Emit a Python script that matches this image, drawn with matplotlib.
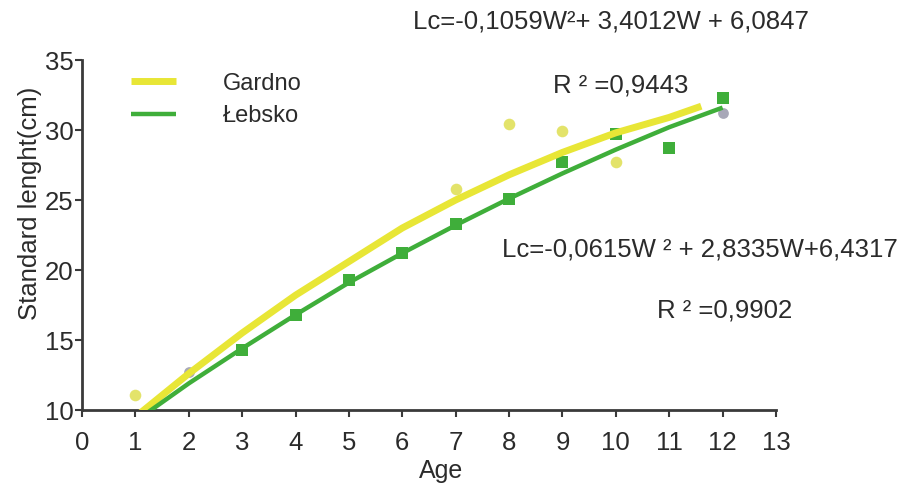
import matplotlib.pyplot as plt
import numpy as np

# values
gardno_age = [1, 7, 8, 9, 10]
gardno_len = [11.1, 25.8, 30.4, 29.9, 27.7]
grey_age = [2, 12]
grey_len = [12.7, 31.2]

lebsko_age = [3, 4, 5, 6, 7, 8, 9, 10, 11, 12]
lebsko_len = [14.3, 16.8, 19.3, 21.2, 23.3, 25.1, 27.7, 29.7, 28.7, 32.3]

# trend lines as they appear in the picture
gardno_trend_age = [1, 2, 3, 4, 5, 6, 7, 8, 9, 10, 11, 11.6]
gardno_trend_len = [9.5, 12.6, 15.5, 18.2, 20.6, 23.0, 25.0, 26.8, 28.4, 29.8, 30.9, 31.7]
lebsko_trend_age = [1, 2, 3, 4, 5, 6, 7, 8, 9, 10, 11, 12]
lebsko_trend_len = [9.2, 11.9, 14.4, 16.8, 19.1, 21.2, 23.2, 25.1, 26.9, 28.6, 30.2, 31.6]

x_ticks = list(range(0, 14))
y_ticks = [10, 15, 20, 25, 30, 35]

plt.rcParams['font.family'] = ['Liberation Sans', 'DejaVu Sans']

YELLOW = '#e8e636'
GREEN = '#3fae3a'
TEXT = '#2b2b2b'
FS = 18.5

fig = plt.figure(figsize=(9.08, 4.9), dpi=100)
ax = fig.add_axes([82 / 908, 80 / 490, 694 / 908, 350 / 490])

ax.scatter(gardno_age, gardno_len, s=70, color='#e3e36a', zorder=2, linewidths=0)
ax.scatter(grey_age, grey_len, s=60, color='#a8a8b8', zorder=2, linewidths=0)
ax.scatter(lebsko_age, lebsko_len, s=75, marker='s', color=GREEN, zorder=2, linewidths=0)

ax.plot(gardno_trend_age, gardno_trend_len, color=YELLOW, lw=5, zorder=3,
        solid_capstyle='butt', label='Gardno')
ax.plot(lebsko_trend_age, lebsko_trend_len, color=GREEN, lw=3.2, zorder=3,
        solid_capstyle='butt', label='Łebsko')

ax.set_xlim(0, 13)
ax.set_ylim(10, 35)
ax.set_xticks(x_ticks)
ax.set_yticks(y_ticks)

for s in ['top', 'right']:
    ax.spines[s].set_visible(False)
for s in ['left', 'bottom']:
    ax.spines[s].set_color('#3a3a3a')
    ax.spines[s].set_linewidth(2)
ax.tick_params(colors='#3a3a3a', labelcolor=TEXT, labelsize=FS, width=1.5,
               length=5, direction='out')
ax.tick_params(axis='x', pad=10)
ax.tick_params(axis='y', pad=1)

ax.set_xlabel('Age', fontsize=18, color=TEXT)
ax.set_ylabel('Standard lenght(cm)', fontsize=18.5, color=TEXT)
ax.xaxis.set_label_coords(0.517, -0.14)
ax.yaxis.set_label_coords(-0.058, 0.59)

leg = ax.legend(loc='upper left', bbox_to_anchor=(0.04, 1.025), frameon=False,
                fontsize=17, handlelength=1.9, handletextpad=2.0, labelspacing=0.45)
for t in leg.get_texts():
    t.set_color(TEXT)

fig.text(413 / 908, 1 - 22 / 490, 'Lc=-0,1059W²+ 3,4012W + 6,0847',
         fontsize=FS, color=TEXT, va='center', ha='left')
fig.text(553 / 908, 1 - 85 / 490, 'R ² =0,9443',
         fontsize=FS, color=TEXT, va='center', ha='left')
fig.text(502 / 908, 1 - 250 / 490, 'Lc=-0,0615W ² + 2,8335W+6,4317',
         fontsize=FS, color=TEXT, va='center', ha='left')
fig.text(657 / 908, 1 - 310 / 490, 'R ² =0,9902',
         fontsize=FS, color=TEXT, va='center', ha='left')

fig.savefig('out.png', dpi=100)
